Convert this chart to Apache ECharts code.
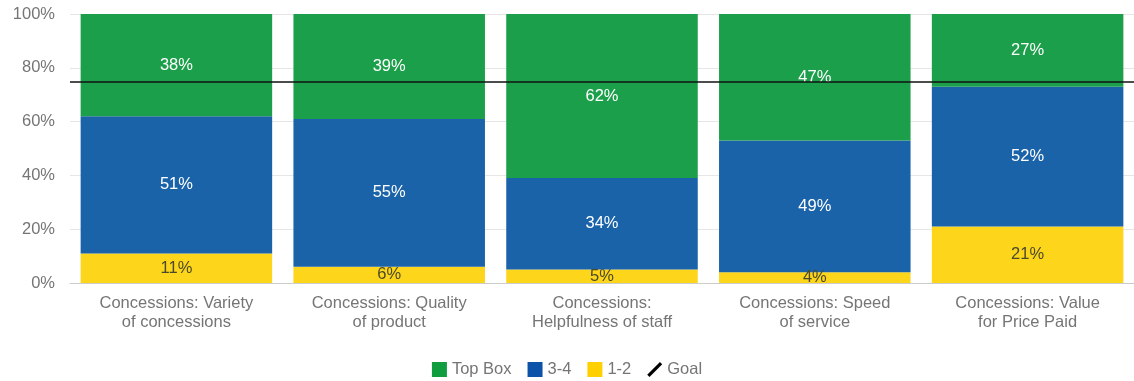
<!DOCTYPE html>
<html>
<head>
<meta charset="utf-8">
<script src="https://cdn.jsdelivr.net/npm/echarts@6/dist/echarts.min.js"></script>
<style>
  html, body { margin: 0; padding: 0; background: #fff; }
  #chart { width: 1134px; height: 381px; }
</style>
</head>
<body>
<div id="chart"></div>
<script>
// Survey categories and score bands (percent of responses)
const categories = [
  'Concessions: Variety\nof concessions',
  'Concessions: Quality\nof product',
  'Concessions:\nHelpfulness of staff',
  'Concessions: Speed\nof service',
  'Concessions: Value\nfor Price Paid'
];
const low12 = [11, 6, 5, 4, 21];
const mid34 = [51, 55, 34, 49, 52];
const topBox = [38, 39, 62, 47, 27];
const goal = 75;
const yTicks = [0, 20, 40, 60, 80, 100];

const FONT = '"Liberation Sans", Arial, sans-serif';
const TEXT_SIZE = 16.5;

function band(name, data, color, labelColor) {
  return {
    name: name,
    type: 'bar',
    stack: 'total',
    data: data,
    barCategoryGap: '10%',
    itemStyle: { color: color },
    label: {
      show: true,
      position: 'inside',
      formatter: p => p.value + '%',
      color: labelColor,
      fontFamily: FONT,
      fontSize: TEXT_SIZE
    },
    emphasis: { disabled: true }
  };
}

const chart = echarts.init(document.getElementById('chart'));
chart.setOption({
  animation: false,
  textStyle: { fontFamily: FONT },
  grid: { left: 70, right: 0, top: 14, bottom: 98 },
  legend: {
    top: 356,
    left: 'center',
    itemWidth: 15,
    itemHeight: 15,
    itemGap: 16,
    textStyle: { color: '#757575', fontSize: TEXT_SIZE, fontFamily: FONT },
    data: [
      { name: 'Top Box', icon: 'rect', itemStyle: { color: '#0f9d3f' } },
      { name: '3-4', icon: 'rect', itemStyle: { color: '#0b52a8' } },
      { name: '1-2', icon: 'rect', itemStyle: { color: '#ffd000' } },
      { name: 'Goal', icon: 'path://M0,13 L11,2 L13,4 L2,15 Z', itemStyle: { color: '#000' } }
    ]
  },
  xAxis: {
    type: 'category',
    data: categories,
    axisTick: { show: false },
    axisLine: { lineStyle: { color: '#cccccc' } },
    axisLabel: {
      color: '#757575',
      fontSize: TEXT_SIZE,
      lineHeight: 19,
      margin: 11,
      interval: 0
    }
  },
  yAxis: {
    type: 'value',
    min: yTicks[0],
    max: yTicks[yTicks.length - 1],
    interval: yTicks[1] - yTicks[0],
    axisLabel: {
      color: '#757575',
      fontSize: TEXT_SIZE,
      margin: 15,
      formatter: v => v + '%'
    },
    splitLine: { lineStyle: { color: '#e6e6e6' } },
    axisLine: { show: false },
    axisTick: { show: false }
  },
  series: [
    band('1-2', low12, '#fdd51a', '#4a4a2a'),
    band('3-4', mid34, '#1a63a8', '#ffffff'),
    band('Top Box', topBox, '#1c9f4a', '#ffffff'),
    {
      name: 'Goal',
      type: 'line',
      data: [],
      symbol: 'none',
      itemStyle: { color: '#000' },
      lineStyle: { color: '#000' },
      markLine: {
        silent: true,
        symbol: 'none',
        label: { show: false },
        lineStyle: { color: '#111', width: 1.5, type: 'solid' },
        data: [{ yAxis: goal }]
      }
    }
  ]
});
</script>
</body>
</html>
